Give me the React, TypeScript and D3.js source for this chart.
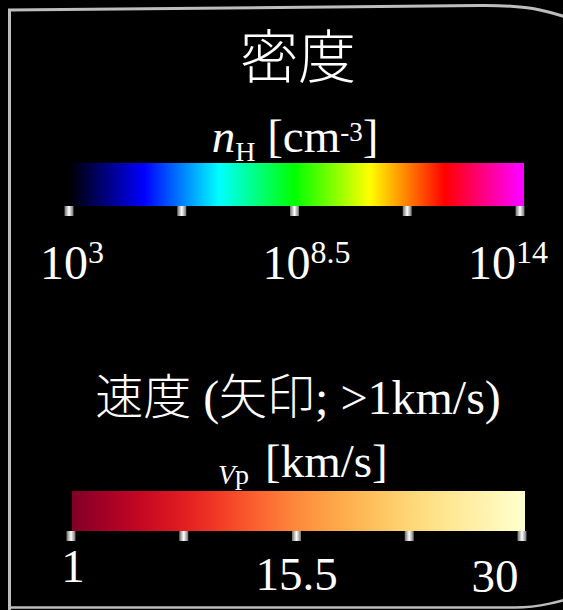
import React from 'react';
import * as d3 from 'd3';

// Colour-bar legend: hydrogen number density (log scale) and velocity arrows.
const densityTicks = [3, 5.75, 8.5, 11.25, 14];
const densityLabels = [3, 8.5, 14];
const densityColors = ['#000000', '#0000ff', '#00ffff', '#00ff00', '#ffff00', '#ff0000', '#ff00ff'];
const velocityTicks = [1, 8.25, 15.5, 22.75, 30];
const velocityLabels = [1, 15.5, 30];

const W = 563;
const H = 610;
const FONT = "'Liberation Serif', 'Noto Sans CJK JP', serif";

// label nudges (layout only)
const denLabelDx = [3, 12, -12];
const velLabelDx = [2, 0, -27];
const velLabelY = [582, 590, 592];

export default function App() {
  const xDen = d3.scaleLinear().domain([3, 14]).range([69, 520]);
  const xVel = d3.scaleLinear().domain([1, 30]).range([71, 522]);
  const velStops = d3.range(0, 1.0001, 0.05).map((t) => ({ t, c: d3.interpolateYlOrRd(1 - t) }));

  const border = d3.path();
  border.moveTo(9.5, 612);
  border.lineTo(9.5, 10);
  border.lineTo(480, 5.5);
  border.bezierCurveTo(525, 5, 555, 9, 600, 32);
  const borderBottom = d3.path();
  borderBottom.moveTo(10, 607.5);
  borderBottom.lineTo(515, 607.5);
  borderBottom.bezierCurveTo(538, 607.5, 556, 603, 600, 590);

  const tickW = 9;
  const tickH = 10;

  return (
    <svg
      width={W}
      height={H}
      style={{ position: 'absolute', left: 0, top: 0, display: 'block' }}
      fontFamily={FONT}
    >
      <defs>
        <linearGradient id="tickShade" x1="0" x2="1" y1="0" y2="0">
          <stop offset="0" stopColor="#6e6e6e" />
          <stop offset="0.5" stopColor="#ffffff" />
          <stop offset="1" stopColor="#6e6e6e" />
        </linearGradient>
        <linearGradient id="denGrad" gradientUnits="userSpaceOnUse" x1={xDen(3)} x2={xDen(14)} y1="0" y2="0">
          {densityColors.map((c, i) => (
            <stop key={i} offset={i / (densityColors.length - 1)} stopColor={c} />
          ))}
        </linearGradient>
        <linearGradient id="velGrad" gradientUnits="userSpaceOnUse" x1={xVel(1)} x2={xVel(30)} y1="0" y2="0">
          {velStops.map((s, i) => (
            <stop key={i} offset={s.t} stopColor={s.c} />
          ))}
        </linearGradient>
      </defs>

      <rect x={0} y={0} width={W} height={H} fill="#000" />
      <path d={border.toString()} fill="none" stroke="#bdbdbd" strokeWidth={3} />
      <path d={borderBottom.toString()} fill="none" stroke="#bdbdbd" strokeWidth={2.5} />

      {/* density section */}
      <text x={298} y={78} textAnchor="middle" fill="#fff" fontSize={58} fontWeight={300}>密度</text>
      <text x={295} y={152} textAnchor="middle" fill="#fff" fontSize={47}>
        <tspan fontStyle="italic">n</tspan>
        <tspan fontSize={28} dy={9}>H</tspan>
        <tspan dy={-9}> [cm</tspan>
        <tspan fontSize={27} dy={-11}>-3</tspan>
        <tspan dy={11}>]</tspan>
      </text>
      <rect x={xDen(3)} y={163} width={xDen(14) + 4 - xDen(3)} height={43} fill="url(#denGrad)" />
      {densityTicks.map((v, i) => (
        <rect key={i} x={xDen(v) - tickW / 2} y={206} width={tickW} height={tickH} fill="url(#tickShade)" />
      ))}
      {densityLabels.map((v, i) => (
        <text key={i} x={xDen(v) + denLabelDx[i]} y={279} textAnchor="middle" fill="#fff" fontSize={48}>
          10<tspan fontSize={32} dy={-16}>{String(v)}</tspan>
        </text>
      ))}

      {/* velocity section */}
      <text x={298} y={414} textAnchor="middle" fill="#fff" fontSize={48} fontWeight={300}>速度 (矢印; &gt;1km/s)</text>
      <text x={218} y={484} fill="#fff" fontSize={28}>
        <tspan fontStyle="italic">V</tspan>
        <tspan>p</tspan>
      </text>
      <text x={265} y={477} fill="#fff" fontSize={47}>[km/s]</text>
      <rect x={xVel(1) + 1} y={491} width={xVel(30) + 3 - xVel(1) - 1} height={40} fill="url(#velGrad)" />
      {velocityTicks.map((v, i) => (
        <rect key={i} x={xVel(v) - tickW / 2} y={531} width={tickW} height={tickH} fill="url(#tickShade)" />
      ))}
      {velocityLabels.map((v, i) => (
        <text key={i} x={xVel(v) + velLabelDx[i]} y={velLabelY[i]} textAnchor="middle" fill="#fff" fontSize={47}>
          {String(v)}
        </text>
      ))}
    </svg>
  );
}
